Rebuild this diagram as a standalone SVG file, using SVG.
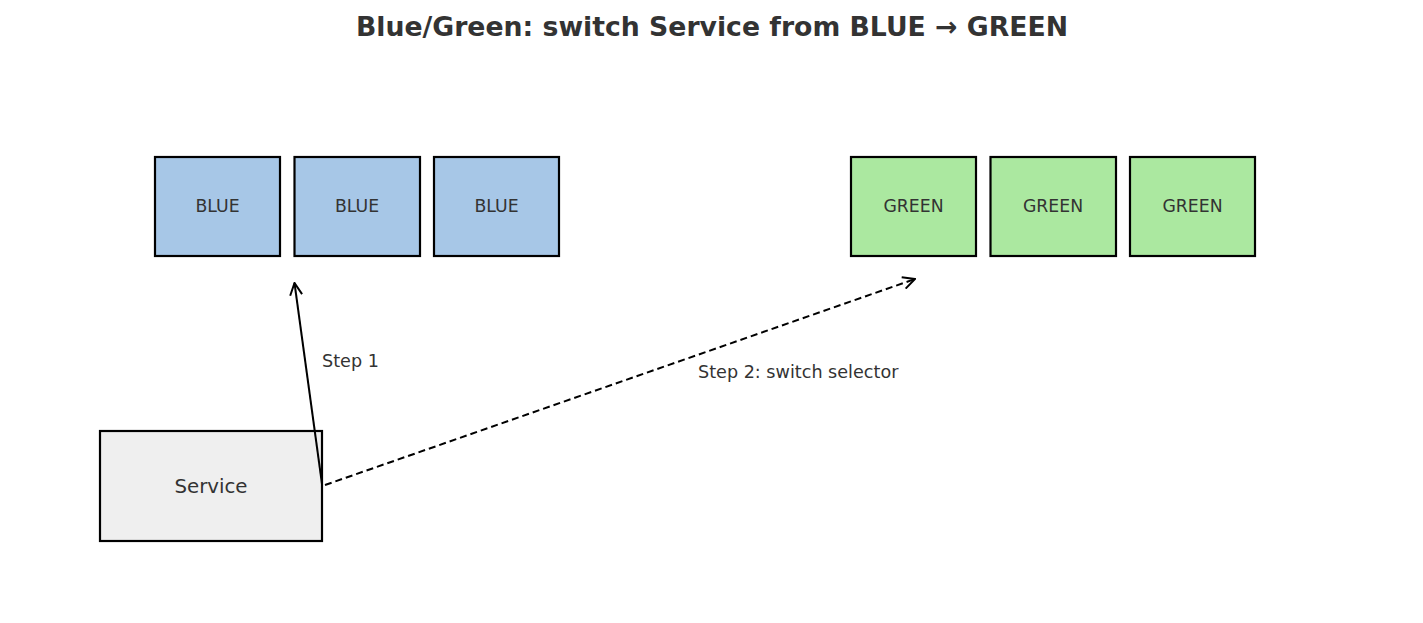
<svg xmlns="http://www.w3.org/2000/svg" width="1423" height="623" viewBox="0 0 1423 623">
<style>
text{font-family:"DejaVu Sans","Liberation Sans",sans-serif;fill:#333333}
.blue rect{fill:#a7c7e7;stroke:#000;stroke-width:2.2}
.green rect{fill:#abe8a0;stroke:#000;stroke-width:2.2}
.svc rect{fill:#efefef;stroke:#000;stroke-width:2.2}
.lbl{font-size:17.3px;text-anchor:middle}
.edge{fill:none;stroke:#000;stroke-width:2}
</style>
<defs>
<marker id="arr" viewBox="0 0 14 14" refX="13" refY="7" markerWidth="14" markerHeight="14" markerUnits="userSpaceOnUse" orient="auto">
<path d="M1,1 L13,7 L1,13" fill="none" stroke="#000" stroke-width="2"/>
</marker>
</defs>
<rect width="1423" height="623" fill="#fff"/>
<text x="712" y="36" font-size="26.7" font-weight="bold" text-anchor="middle">Blue/Green: switch Service from BLUE → GREEN</text>
<g id="blue1" class="blue"><rect x="155" y="157" width="125" height="99"/><text class="lbl" x="217.5" y="212">BLUE</text></g>
<g id="blue2" class="blue"><rect x="294.5" y="157" width="125.5" height="99"/><text class="lbl" x="357" y="212">BLUE</text></g>
<g id="blue3" class="blue"><rect x="434" y="157" width="125" height="99"/><text class="lbl" x="496.5" y="212">BLUE</text></g>
<g id="green1" class="green"><rect x="851" y="157" width="125" height="99"/><text class="lbl" x="913.5" y="212">GREEN</text></g>
<g id="green2" class="green"><rect x="990.5" y="157" width="125.5" height="99"/><text class="lbl" x="1053" y="212">GREEN</text></g>
<g id="green3" class="green"><rect x="1130" y="157" width="125" height="99"/><text class="lbl" x="1192.5" y="212">GREEN</text></g>
<g id="service" class="svc"><rect x="100" y="431" width="222" height="110"/><text x="211" y="493" font-size="19.8" text-anchor="middle">Service</text></g>
<g id="connectors">
<line class="edge" x1="322" y1="484" x2="294.5" y2="283" marker-end="url(#arr)"/>
<line class="edge" x1="325" y1="485" x2="915" y2="279" stroke-dasharray="7,4" marker-end="url(#arr)"/>
<text x="322" y="367" font-size="17.6">Step 1</text>
<text x="698" y="378" font-size="17.6">Step 2: switch selector</text>
</g>
</svg>
